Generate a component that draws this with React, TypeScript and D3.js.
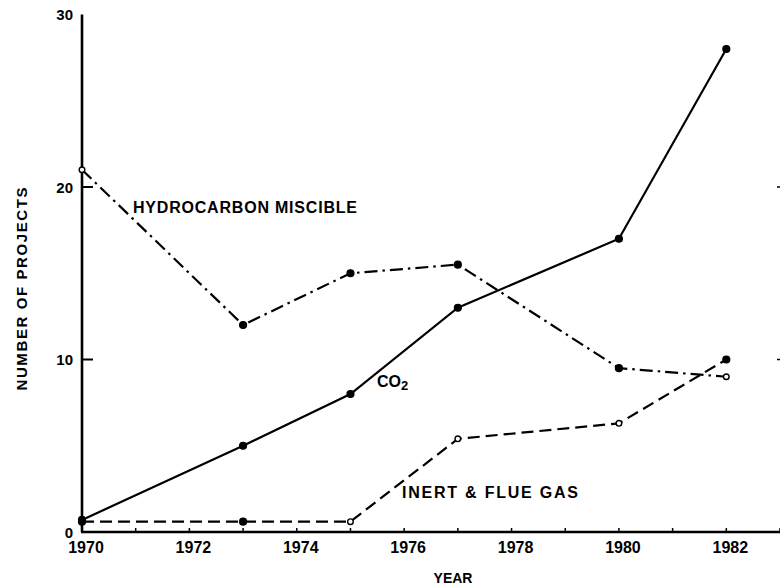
import React from 'react';
import * as d3 from 'd3';

// values
const years = [1970, 1973, 1975, 1977, 1980, 1982];
const co2Projects = [0.7, 5, 8, 13, 17, 28];
const hydrocarbonProjects = [21, 12, 15, 15.5, 9.5, 9];
const inertGasProjects = [0.6, 0.6, 0.6, 5.4, 6.3, 10];

const yearTicks = d3.range(1970, 1984);
const yearLabels = [1970, 1972, 1974, 1976, 1978, 1980, 1982];
const projectTicks = [0, 10, 20, 30];

const width = 780;
const height = 586;
const font = '"Liberation Sans", Arial, sans-serif';

const xScale = d3.scaleLinear().domain([1970, 1983]).range([82, 780]);
const yScale = d3.scaleLinear().domain([0, 30]).range([532, 14.5]);

const series = [
  { id: 'co2', values: co2Projects, dash: undefined, hollow: [] as number[] },
  { id: 'hc', values: hydrocarbonProjects, dash: '13,5,2.5,5', hollow: [0, 5] },
  { id: 'inert', values: inertGasProjects, dash: '12,6', hollow: [2, 3, 4] },
];

const line = d3
  .line<number>()
  .x((_, i) => xScale(years[i]))
  .y((d) => yScale(d));

export default function App() {
  return (
    <svg
      width={width}
      height={height}
      style={{ position: 'absolute', left: 0, top: 0, background: '#fff' }}
      fontFamily={font}
      fontWeight="bold"
    >
      {/* axes */}
      <line x1={xScale(1970)} y1={yScale(30)} x2={xScale(1970)} y2={yScale(0)} stroke="#000" strokeWidth={2.6} />
      <line x1={xScale(1970) - 1} y1={yScale(0)} x2={xScale(1983)} y2={yScale(0)} stroke="#000" strokeWidth={2.6} />

      {yearTicks.map((t) => (
        <line key={`xt-${t}`} x1={xScale(t)} x2={xScale(t)} y1={yScale(0)} y2={yScale(0) - 4} stroke="#000" strokeWidth={1.5} />
      ))}
      {yearLabels.map((t) => (
        <text key={`xl-${t}`} x={xScale(t) + 4} y={553} textAnchor="middle" fontSize={16}>
          {t}
        </text>
      ))}

      {projectTicks.filter((t) => t > 0 && t < 30).map((t) => (
        <g key={`yt-${t}`}>
          <line x1={xScale(1970)} x2={xScale(1970) + 11} y1={yScale(t)} y2={yScale(t)} stroke="#000" strokeWidth={2} />
          <line x1={xScale(1983) - 3} x2={xScale(1983)} y1={yScale(t)} y2={yScale(t)} stroke="#000" strokeWidth={1.5} />
        </g>
      ))}
      {projectTicks.map((t) => (
        <text key={`yl-${t}`} x={73} y={yScale(t) + 5.5} textAnchor="end" fontSize={15}>
          {t}
        </text>
      ))}

      <text transform="translate(27, 289) rotate(-90)" textAnchor="middle" fontSize={15} textLength={203} lengthAdjust="spacing">
        NUMBER OF PROJECTS
      </text>
      <text x={453} y={583} textAnchor="middle" fontSize={14}>
        YEAR
      </text>

      {/* series */}
      {series.map((s) => (
        <g key={s.id}>
          <path d={line(s.values) || ''} fill="none" stroke="#000" strokeWidth={2.2} strokeDasharray={s.dash} />
          {s.values.map((v, i) => {
            const open = s.hollow.includes(i);
            return (
              <circle
                key={i}
                cx={xScale(years[i])}
                cy={yScale(v)}
                r={open ? 2.8 : 3.4}
                fill={open ? '#fff' : '#000'}
                stroke="#000"
                strokeWidth={1.4}
              />
            );
          })}
        </g>
      ))}

      {/* series labels */}
      <text x={133} y={213} fontSize={16} textLength={224} lengthAdjust="spacing">
        HYDROCARBON MISCIBLE
      </text>
      <text x={377} y={387} fontSize={16}>
        CO<tspan fontSize={13} dy={3}>2</tspan>
      </text>
      <text x={402} y={498} fontSize={16} textLength={176} lengthAdjust="spacing">
        INERT &amp; FLUE GAS
      </text>
    </svg>
  );
}
